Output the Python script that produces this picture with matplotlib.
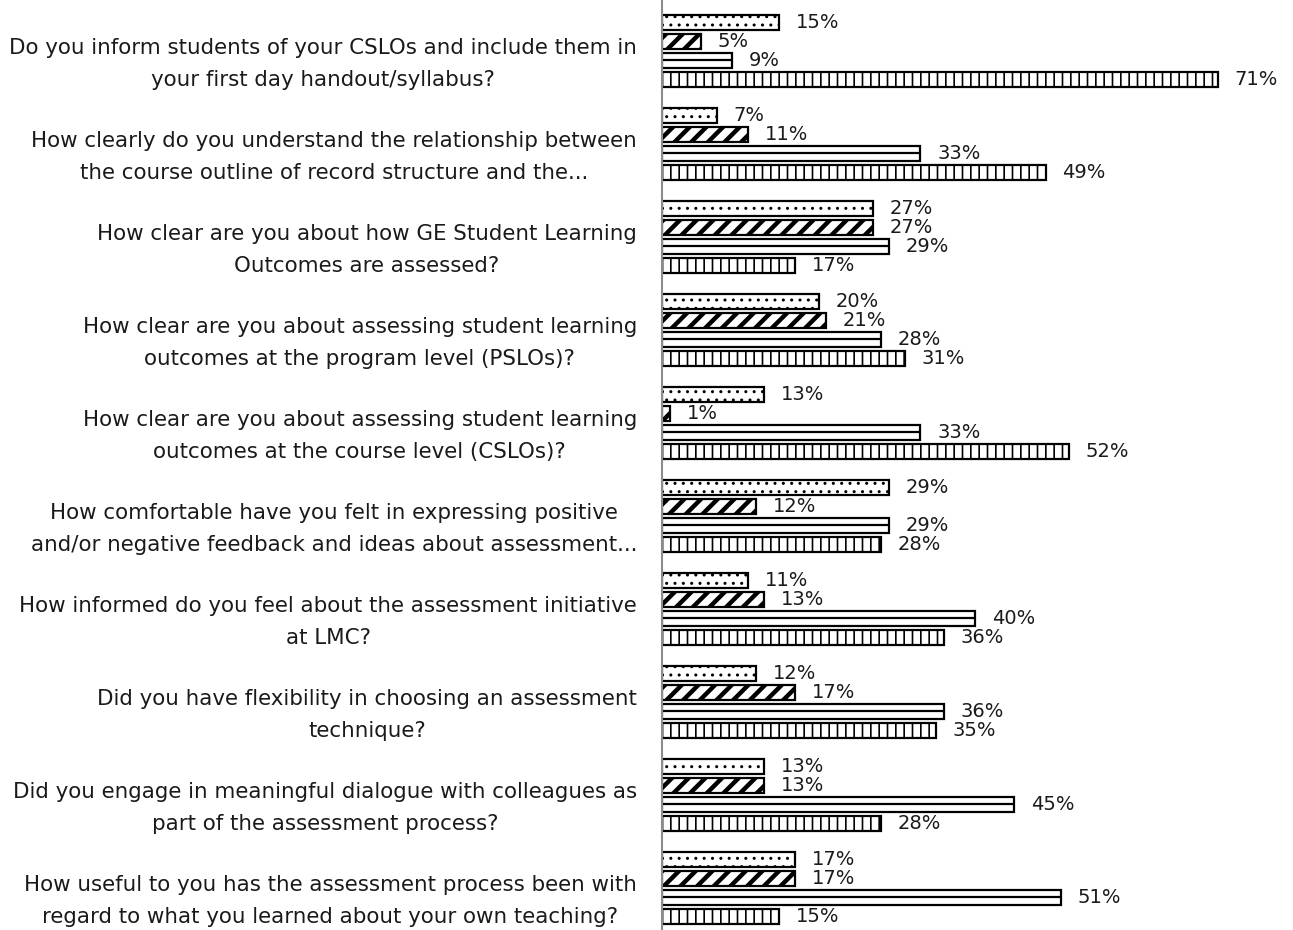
import matplotlib
matplotlib.use("Agg")
import matplotlib.pyplot as plt
import numpy as np
from matplotlib.transforms import ScaledTranslation

plt.rcParams['font.family'] = 'DejaVu Sans'

questions = [
    "Do you inform students of your CSLOs and include them in\nyour first day handout/syllabus?",
    "How clearly do you understand the relationship between\nthe course outline of record structure and the...",
    "How clear are you about how GE Student Learning\nOutcomes are assessed?",
    "How clear are you about assessing student learning\noutcomes at the program level (PSLOs)?",
    "How clear are you about assessing student learning\noutcomes at the course level (CSLOs)?",
    "How comfortable have you felt in expressing positive\nand/or negative feedback and ideas about assessment...",
    "How informed do you feel about the assessment initiative\nat LMC?",
    "Did you have flexibility in choosing an assessment\ntechnique?",
    "Did you engage in meaningful dialogue with colleagues as\npart of the assessment process?",
    "How useful to you has the assessment process been with\nregard to what you learned about your own teaching?",
]

# four response series, top to bottom inside each group
series_dots = [15, 7, 27, 20, 13, 29, 11, 12, 13, 17]
series_diag = [5, 11, 27, 21, 1, 12, 13, 17, 13, 17]
series_horiz = [9, 33, 29, 28, 33, 29, 40, 36, 45, 51]
series_vert = [71, 49, 17, 31, 52, 28, 36, 35, 28, 15]

all_series = [series_dots, series_diag, series_horiz, series_vert]
hatches = ['..', '//', '', '||']
hatch_lw = [1.0, 3.2, 1.0, 1.2]

fig = plt.figure(figsize=(12.93, 9.3), dpi=100)
ax = fig.add_axes([662 / 1293, 0, 1 - 662 / 1293, 1])

y = np.arange(len(questions))
pitch = 0.204
height = 0.17
offsets = (np.arange(4) - 1.5) * pitch

for k, vals in enumerate(all_series):
    pos = y + offsets[k]
    bars = ax.barh(pos, vals, height=height, color='white', edgecolor='black',
                   linewidth=1.6, hatch=hatches[k])
    for b in bars:
        if hasattr(b, 'set_hatch_linewidth'):
            b.set_hatch_linewidth(hatch_lw[k])
    if k == 2:
        # the "lined" series has one rule through its middle
        ax.hlines(pos, 0, vals, color='black', linewidth=1.6)
    for p, v in zip(pos, vals):
        ax.annotate(f"{v}%", (v, p), xytext=(12, 0), textcoords='offset points',
                    ha='left', va='center', fontsize=14, color='#1a1a1a')

ax.set_xlim(0, (1293 - 662) / 7.83)
ax.set_ylim(9 + 42 / 93, -51 / 93)

ax.set_yticks(y)
ax.set_yticklabels(questions, fontsize=15.4, color='#1a1a1a',
                   multialignment='center', linespacing=1.72)
ax.tick_params(axis='y', length=0, pad=18)
ax.set_xticks([])
offset = ScaledTranslation(0, -5 / 100, fig.dpi_scale_trans)
for lab in ax.get_yticklabels():
    lab.set_transform(lab.get_transform() + offset)

for side in ['top', 'right', 'bottom']:
    ax.spines[side].set_visible(False)
ax.spines['left'].set_color('#8c8c8c')
ax.spines['left'].set_linewidth(1.5)

fig.savefig("out.png", dpi=100, facecolor='white')
